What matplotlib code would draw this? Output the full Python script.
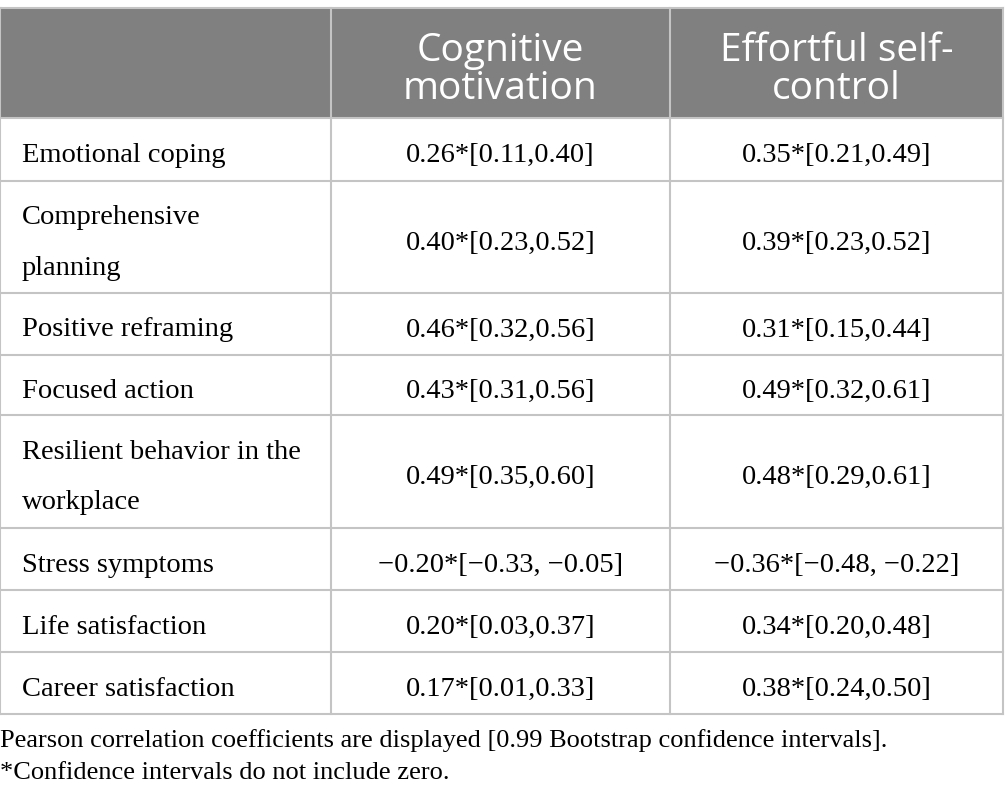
import matplotlib.pyplot as plt

# table content
col_headers = ["Cognitive\nmotivation", "Effortful self-\ncontrol"]
row_labels = [
    "Emotional coping",
    "Comprehensive\nplanning",
    "Positive reframing",
    "Focused action",
    "Resilient behavior in the\nworkplace",
    "Stress symptoms",
    "Life satisfaction",
    "Career satisfaction",
]
cognitive = [
    "0.26*[0.11,0.40]",
    "0.40*[0.23,0.52]",
    "0.46*[0.32,0.56]",
    "0.43*[0.31,0.56]",
    "0.49*[0.35,0.60]",
    "\u22120.20*[\u22120.33, \u22120.05]",
    "0.20*[0.03,0.37]",
    "0.17*[0.01,0.33]",
]
self_control = [
    "0.35*[0.21,0.49]",
    "0.39*[0.23,0.52]",
    "0.31*[0.15,0.44]",
    "0.49*[0.32,0.61]",
    "0.48*[0.29,0.61]",
    "\u22120.36*[\u22120.48, \u22120.22]",
    "0.34*[0.20,0.48]",
    "0.38*[0.24,0.50]",
]
footnotes = [
    "Pearson correlation coefficients are displayed [0.99 Bootstrap confidence intervals].",
    "*Confidence intervals do not include zero.",
]

# layout (pixels)
W, H = 1005, 810
col_x = [0, 331, 670, 1003]
top = 8
header_h = 110
row_h = [63, 112, 62, 60, 113, 62, 62, 62]
line_c = "#c4c4c4"
header_c = "#808080"
serif = ["Liberation Serif", "DejaVu Serif"]
sans = ["Open Sans", "DejaVu Sans"]
body_fs = 20.5

fig = plt.figure(figsize=(W / 100, H / 100), dpi=100)
ax = fig.add_axes([0, 0, 1, 1])
ax.set_xlim(0, W)
ax.set_ylim(H, 0)
ax.axis("off")

# header
ax.add_patch(plt.Rectangle((col_x[0], top), col_x[-1] - col_x[0], header_h,
                           facecolor=header_c, edgecolor="none"))
for i, h in enumerate(col_headers):
    cx = (col_x[i + 1] + col_x[i + 2]) / 2
    ax.text(cx, top + header_h / 2 + 7, h, ha="center", va="center", color="white",
            fontsize=28, family=sans, linespacing=1.02)

# body rows
y = top + header_h
row_edges = [y]
for lab, a, b, rh in zip(row_labels, cognitive, self_control, row_h):
    cy = y + rh / 2 + 6
    ax.text(col_x[0] + 22, cy, lab, ha="left", va="center", fontsize=body_fs,
            family=serif, linespacing=2.36)
    ax.text((col_x[1] + col_x[2]) / 2, cy, a, ha="center", va="center",
            fontsize=body_fs, family=serif)
    ax.text((col_x[2] + col_x[3]) / 2, cy, b, ha="center", va="center",
            fontsize=body_fs, family=serif)
    y += rh
    row_edges.append(y)

# grid lines
ax.plot([col_x[0], col_x[-1]], [top, top], color=line_c, lw=1.5)
for ry in row_edges:
    ax.plot([col_x[0], col_x[-1]], [ry, ry], color=line_c, lw=1.5)
for cx in col_x:
    ax.plot([cx, cx], [top, row_edges[-1]], color=line_c, lw=1.5)

# footnotes
ax.text(0, row_edges[-1] + 27, footnotes[0], ha="left", va="center",
        fontsize=19, family=serif)
ax.text(0, row_edges[-1] + 59, footnotes[1], ha="left", va="center",
        fontsize=19, family=serif)

fig.savefig("out.png", dpi=100)
